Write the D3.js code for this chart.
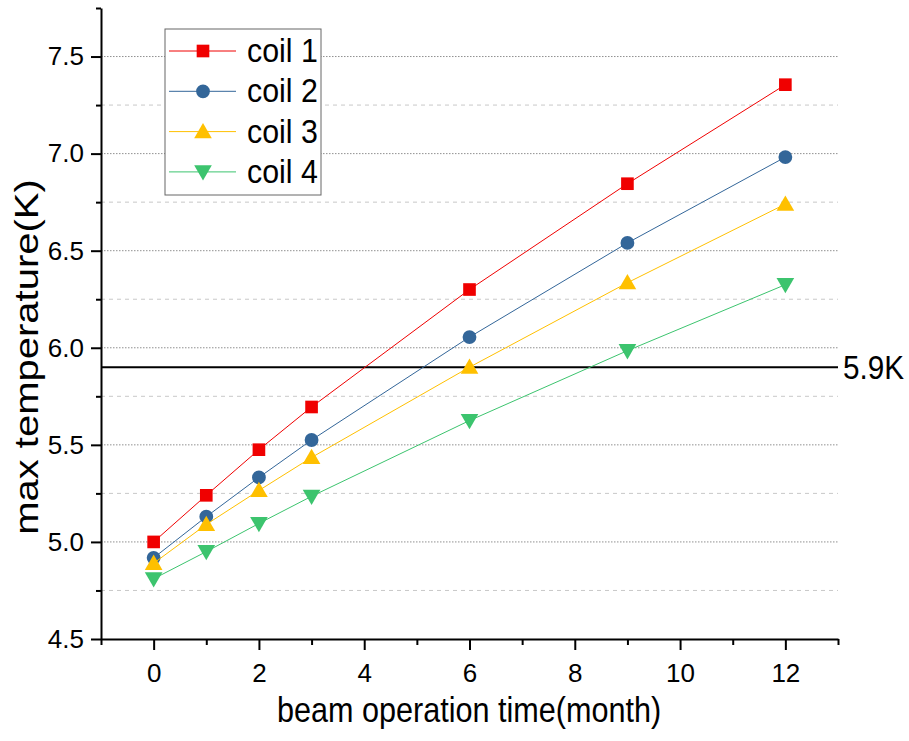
<!DOCTYPE html>
<html lang="en">
<head>
<meta charset="UTF-8">
<title>max temperature</title>
<script src="https://d3js.org/d3.v7.min.js"></script>
<style>
  body { margin: 0; background: #fff; }
  text { font-family: "Liberation Sans", Arial, sans-serif; fill: #000; }
</style>
</head>
<body>
<div id="chart"></div>
<script>
// data
const months = [0, 1, 2, 3, 6, 9, 12];
const coil1 = [5.00, 5.24, 5.475, 5.695, 6.30, 6.845, 7.355];
const coil2 = [4.918, 5.13, 5.332, 5.525, 6.055, 6.54, 6.982];
const coil3 = [4.89, 5.09, 5.265, 5.435, 5.90, 6.335, 6.74];
const coil4 = [4.81, 4.95, 5.095, 5.235, 5.625, 5.985, 6.325];
const seriesNames = ["coil 1", "coil 2", "coil 3", "coil 4"];
const xTicks = [0, 2, 4, 6, 8, 10, 12];
const xMinorTicks = [-1, 1, 3, 5, 7, 9, 11, 13];
const yTicks = [4.5, 5.0, 5.5, 6.0, 6.5, 7.0, 7.5];
const yMinorTicks = [4.75, 5.25, 5.75, 6.25, 6.75, 7.25, 7.75];
const limit = 5.9;
const limitLabel = "5.9K";

const colors = ["#f00000", "#336699", "#ffc000", "#3cc46e"];
const allSeries = [coil1, coil2, coil3, coil4];

const W = 909, H = 741;
const plotLeft = 101, plotRight = 838, plotTop = 8, plotBottom = 639;
// text in the picture is a bit narrow
const squeeze = "scale(0.85,1)";

const x = d3.scaleLinear().domain([-1, 13]).range([plotLeft, plotRight]);
const y = d3.scaleLinear().domain([4.5, 7.75]).range([plotBottom, plotTop]);

const svg = d3.select("#chart").append("svg")
    .attr("width", W)
    .attr("height", H);

// grid lines
svg.append("g").selectAll("line")
    .data(yMinorTicks.filter(v => v < 7.75))
    .join("line")
    .attr("x1", plotLeft).attr("x2", plotRight)
    .attr("y1", d => y(d)).attr("y2", d => y(d))
    .attr("stroke", "#c8c8c8")
    .attr("stroke-dasharray", "4,4");

svg.append("g").selectAll("line")
    .data(yTicks.filter(v => v > 4.5))
    .join("line")
    .attr("x1", plotLeft).attr("x2", plotRight)
    .attr("y1", d => y(d)).attr("y2", d => y(d))
    .attr("stroke", "#909090")
    .attr("stroke-dasharray", "1.5,1.5");

// axes
const yAxis = svg.append("g")
    .attr("transform", "translate(" + plotLeft + ",0)")
    .call(d3.axisLeft(y).tickValues(yTicks).tickSize(10).tickPadding(7).tickFormat(d3.format(".1f")).tickSizeOuter(0));
svg.append("g")
    .attr("transform", "translate(" + plotLeft + ",0)")
    .call(d3.axisLeft(y).tickValues(yMinorTicks).tickSize(5).tickFormat("").tickSizeOuter(0))
    .select(".domain").remove();

const xAxis = svg.append("g")
    .attr("transform", "translate(0," + plotBottom + ")")
    .call(d3.axisBottom(x).tickValues(xTicks).tickSize(11).tickPadding(14).tickSizeOuter(0));
svg.append("g")
    .attr("transform", "translate(0," + plotBottom + ")")
    .call(d3.axisBottom(x).tickValues(xMinorTicks).tickSize(6).tickFormat("").tickSizeOuter(0))
    .select(".domain").remove();

svg.selectAll(".domain, .tick line")
    .attr("stroke", "#000")
    .attr("stroke-width", 2);
svg.selectAll("g").attr("font-family", null).attr("font-size", null);
yAxis.selectAll(".tick text").style("font-size", "26px");
xAxis.selectAll(".tick text").style("font-size", "26px");

// 5.9K limit line
svg.append("line")
    .attr("x1", plotLeft).attr("x2", plotRight)
    .attr("y1", y(limit)).attr("y2", y(limit))
    .attr("stroke", "#000")
    .attr("stroke-width", 2);
svg.append("text")
    .attr("transform", "translate(843," + (y(limit) + 12) + ") scale(0.9,1)")
    .style("font-size", "33px")
    .text(limitLabel);

// marker shapes: square, circle, up triangle, down triangle
function marker(sel, i) {
    if (i === 0) {
        sel.attr("d", d3.symbol().type(d3.symbolSquare).size(160)());
    } else if (i === 1) {
        sel.attr("d", d3.symbol().type(d3.symbolCircle).size(150)());
    } else {
        sel.attr("d", d3.symbol().type(d3.symbolTriangle).size(135)());
    }
    return sel.attr("fill", colors[i]);
}
function markerAt(px, py, i) {
    const shift = i === 2 ? 1.5 : i === 3 ? -1.5 : 0;
    return "translate(" + px + "," + (py + shift) + ")" + (i === 3 ? " rotate(180)" : "");
}

const line = d3.line()
    .x((d, j) => x(months[j]))
    .y(d => y(d));

allSeries.forEach((vals, i) => {
    const g = svg.append("g");
    g.append("path")
        .datum(vals)
        .attr("fill", "none")
        .attr("stroke", colors[i])
        .attr("stroke-width", 1)
        .attr("d", line);
    g.selectAll("path.m")
        .data(vals)
        .join("path")
        .attr("class", "m")
        .call(s => marker(s, i))
        .attr("transform", (d, j) => markerAt(x(months[j]), y(d), i));
});

// legend
const legend = svg.append("g");
legend.append("rect")
    .attr("x", 165).attr("y", 29)
    .attr("width", 156).attr("height", 166)
    .attr("fill", "#fff")
    .attr("stroke", "#666")
    .attr("stroke-width", 1);

seriesNames.forEach((name, i) => {
    const ry = 51 + i * 40.3;
    legend.append("line")
        .attr("x1", 169).attr("x2", 236)
        .attr("y1", ry).attr("y2", ry)
        .attr("stroke", colors[i])
        .attr("stroke-width", 1);
    legend.append("path")
        .call(s => marker(s, i))
        .attr("transform", markerAt(203, ry, i));
    legend.append("text")
        .attr("transform", "translate(247," + (ry + 11) + ") scale(0.92,1)")
        .style("font-size", "33px")
        .text(name);
});

// axis titles
svg.append("text")
    .attr("transform", "translate(469,722) " + squeeze)
    .attr("text-anchor", "middle")
    .style("font-size", "36px")
    .text("beam operation time(month)");

svg.append("text")
    .attr("transform", "translate(38,357) " + squeeze + " rotate(-90)")
    .attr("text-anchor", "middle")
    .style("font-size", "40px")
    .text("max temperature(K)");
</script>
</body>
</html>
